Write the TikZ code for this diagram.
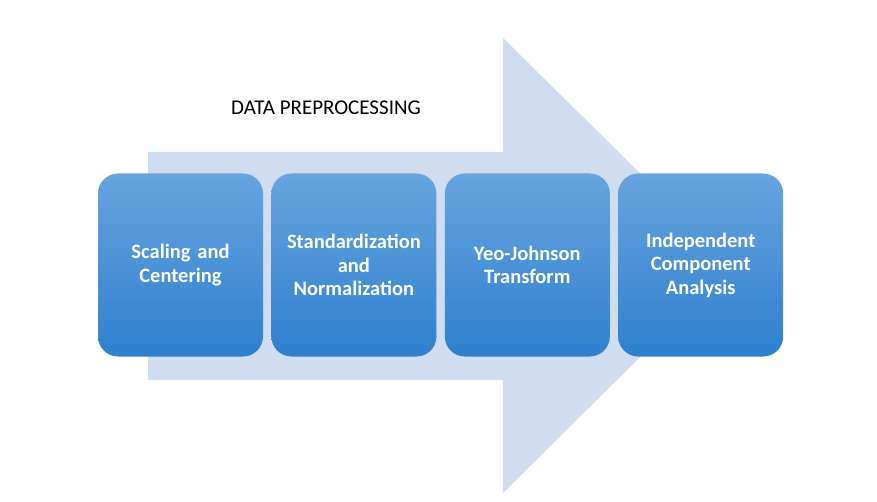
\documentclass[tikz,border=0pt]{standalone}
\usepackage{fontspec}
\setmainfont{Carlito}
\usetikzlibrary{positioning}

\definecolor{arrowblue}{RGB}{208,221,240}
\definecolor{boxtop}{RGB}{103,164,224}
\definecolor{boxbottom}{RGB}{46,128,205}

\tikzset{
	stagebox/.style={rectangle,rounded corners=20pt,minimum width=165pt,minimum height=183pt,
		top color=boxtop,bottom color=boxbottom,draw=none,text=white,
		font=\fontsize{20.5}{23.5}\selectfont\bfseries,text width=158pt,align=center,inner sep=0pt},
	titletext/.style={font=\fontsize{21}{24}\selectfont,text=black}
}

\begin{document}
\begin{tikzpicture}[x=1pt,y=-1pt]
				\useasboundingbox (0,0) rectangle (877,502);
				
				%Pfeil im Hintergrund
				\fill[arrowblue] (148,152) -- (503,152) -- (503,38) -- (733,265)
					-- (503,493) -- (503,380) -- (148,380) -- cycle;
				
				\node[titletext] (title) at (326,108) {DATA PREPROCESSING};
				
				%Schritte
				\node[stagebox] (scaling) at (180.5,265) {Scaling and\\Centering};
				\node[stagebox,right=8pt of scaling] (standard) {Standardization\\and\\Normalization};
				\node[stagebox,right=8pt of standard] (yeo) {Yeo-Johnson\\Transform};
				\node[stagebox,right=8pt of yeo] (ica) {Independent\\Component\\Analysis};
	\end{tikzpicture}
\end{document}
